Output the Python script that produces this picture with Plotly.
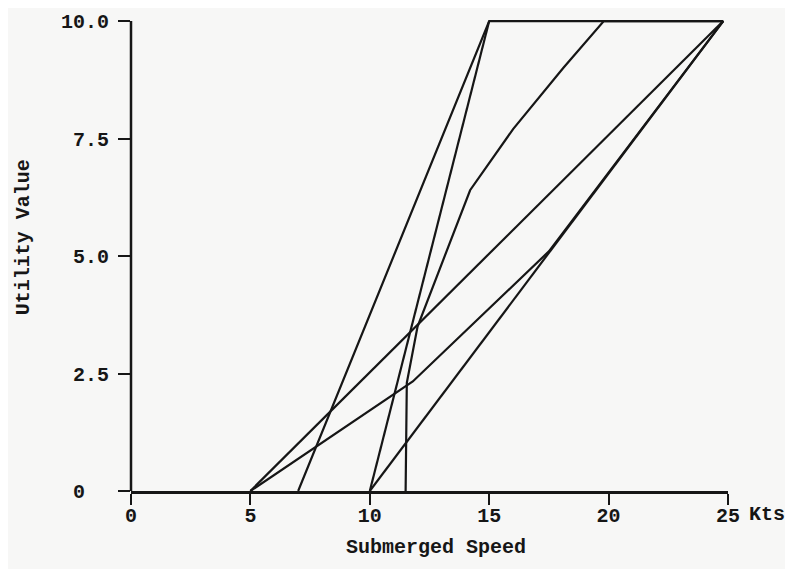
import plotly.graph_objects as go

# Utility curves (submerged speed in knots -> utility value)
curve_a_x = [5, 24.8]
curve_a_y = [0, 10]
curve_b_x = [5, 11.8, 17.5, 24.8]
curve_b_y = [0, 2.33, 5.1, 10]
curve_c_x = [7, 15, 24.8]
curve_c_y = [0, 10, 10]
curve_d_x = [10, 15]
curve_d_y = [0, 10]
curve_e_x = [10, 24.8]
curve_e_y = [0, 10]
curve_f_x = [11.5, 11.55, 12.0, 14.2, 16.0, 18.1, 19.8, 24.8]
curve_f_y = [0, 2.3, 3.5, 6.4, 7.7, 9.0, 10, 10]

x_tick_vals = [0, 5, 10, 15, 20, 25]
x_tick_text = ["0", "5", "10", "15", "20", "25"]
y_tick_vals = [0, 2.5, 5.0, 7.5, 10.0]
y_tick_text = ["0\u00a0\u00a0", "2.5", "5.0", "7.5", "10.0"]

INK = "#161616"
BG = "#f7f7f6"
FONT = "Liberation Mono"

curves = [
    (curve_a_x, curve_a_y),
    (curve_b_x, curve_b_y),
    (curve_c_x, curve_c_y),
    (curve_d_x, curve_d_y),
    (curve_e_x, curve_e_y),
    (curve_f_x, curve_f_y),
]

fig = go.Figure()
for cx, cy in curves:
    fig.add_trace(go.Scatter(x=cx, y=cy, mode="lines",
                             line=dict(color=INK, width=2.2),
                             showlegend=False, hoverinfo="skip"))

fig.update_layout(
    width=793, height=569,
    margin=dict(l=123, r=73, t=3, b=86),
    paper_bgcolor=BG, plot_bgcolor=BG,
    font=dict(family=FONT, size=20, color=INK, weight="bold"),
    showlegend=False,
)

fig.update_xaxes(
    range=[0, 25], tickvals=x_tick_vals, ticktext=x_tick_text,
    showgrid=False, zeroline=False, showline=True, linecolor=INK, linewidth=2.5,
    ticks="outside", ticklen=11, tickwidth=2, tickcolor=INK,
    ticklabelstandoff=-7,
    tickfont=dict(family=FONT, size=20, color=INK),
)
fig.update_yaxes(
    range=[0, 10.15], tickvals=y_tick_vals, ticktext=y_tick_text,
    showgrid=False, zeroline=False, showline=False,
    ticks="outside", ticklen=12, tickwidth=2, tickcolor=INK,
    ticklabelstandoff=5,
    tickfont=dict(family=FONT, size=20, color=INK),
)

# y-axis line from 0 to 10 only
fig.add_shape(type="line", xref="paper", yref="y", x0=0, x1=0, y0=0, y1=10,
              line=dict(color=INK, width=2.5))

fig.add_annotation(text="Utility Value", xref="paper", yref="paper",
                   x=-0.181, y=0.532, textangle=-90, showarrow=False,
                   xanchor="center", yanchor="middle",
                   font=dict(family=FONT, size=20, color=INK, weight="bold"))
fig.add_annotation(text="Submerged Speed", xref="paper", yref="paper",
                   x=0.511, y=-0.119, showarrow=False,
                   xanchor="center", yanchor="middle",
                   font=dict(family=FONT, size=20, color=INK, weight="bold"))
fig.add_annotation(text="Kts", xref="paper", yref="paper",
                   x=1.065, y=-0.050, showarrow=False,
                   xanchor="center", yanchor="middle",
                   font=dict(family=FONT, size=20, color=INK))

fig.write_html("out.html")
